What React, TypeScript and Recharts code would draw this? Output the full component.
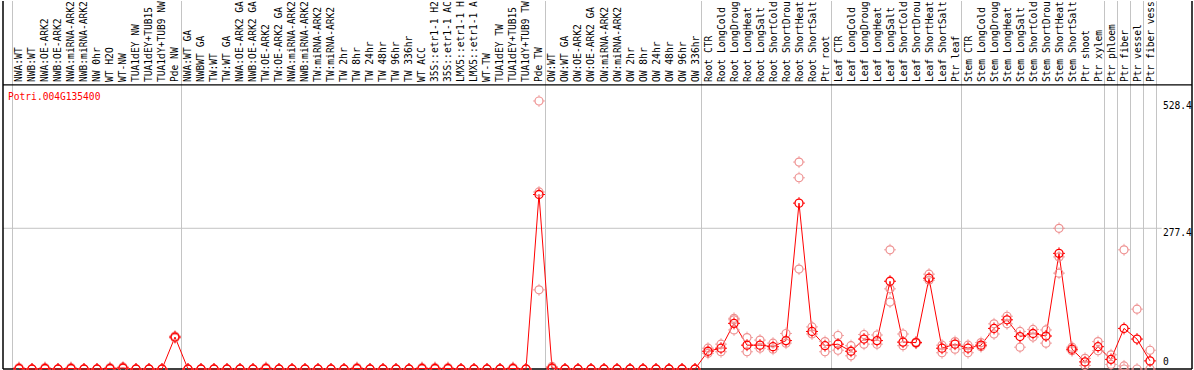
import React from 'react';
import { ComposedChart, Line, Scatter, XAxis, YAxis, ReferenceLine } from 'recharts';

const GENE = 'Potri.004G135400';

const SAMPLES = [
  'NWA:WT', 'NWB:WT', 'NWA:OE-ARK2', 'NWB:OE-ARK2', 'NWA:miRNA-ARK2', 'NWB:miRNA-ARK2',
  'NW 0hr', 'WT H2O', 'WT-NW', 'TUA1dEY NW', 'TUA1dEY+TUB15', 'TUA1dY+TUB9 NW', 'Pde NW',
  'NWA:WT GA', 'NWBWT GA', 'TW:WT', 'TW:WT GA', 'NWA:OE-ARK2 GA', 'NWB:OE-ARK2 GA',
  'TW:OE-ARK2', 'TW:OE-ARK2 GA', 'NWA:miRNA-ARK2', 'NWB:miRNA-ARK2', 'TW:miRNA-ARK2',
  'TW:miRNA-ARK2', 'TW 2hr', 'TW 8hr', 'TW 24hr', 'TW 48hr', 'TW 96hr', 'TW 336hr',
  'WT ACC', '35S::etr1-1 H2', '35S::etr1-1 AC', 'LMX5::etr1-1 H', 'LMX5::etr1-1 A',
  'WT-TW', 'TUA1dEY TW', 'TUA1dEY+TUB15', 'TUA1dY+TUB9 TW', 'Pde TW',
  'OW:WT', 'OW:WT GA', 'OW:OE-ARK2', 'OW:OE-ARK2 GA', 'OW:miRNA-ARK2', 'OW:miRNA-ARK2',
  'OW 2hr', 'OW 8hr', 'OW 24hr', 'OW 48hr', 'OW 96hr', 'OW 336hr',
  'Root CTR', 'Root LongCold', 'Root LongDroug', 'Root LongHeat', 'Root LongSalt',
  'Root ShortCold', 'Root ShortDrou', 'Root ShortHeat', 'Root ShortSalt', 'Ptr root',
  'Leaf CTR', 'Leaf LongCold', 'Leaf LongDroug', 'Leaf LongHeat', 'Leaf LongSalt',
  'Leaf ShortCold', 'Leaf ShortDrou', 'Leaf ShortHeat', 'Leaf ShortSalt', 'Ptr leaf',
  'Stem CTR', 'Stem LongCold', 'Stem LongDroug', 'Stem LongHeat', 'Stem LongSalt',
  'Stem ShortCold', 'Stem ShortDrou', 'Stem ShortHeat', 'Stem ShortSalt', 'Ptr shoot',
  'Ptr xylem', 'Ptr phloem', 'Ptr fiber', 'Ptr vessel', 'Ptr fiber vess',
];

// mean expression per sample
const MEANS = [
  1, 0, 1, 0, 1, 0, 0, 1, 2, 0, 0, 0, 63,
  0, 0, 0, 0, 0, 0, 1, 0, 0, 0, 0, 0, 0, 1, 0, 0, 0, 0, 1, 1, 1, 0, 0, 0, 0, 1, 0, 344,
  2, 0, 0, 0, 0, 0, 0, 0, 0, 0, 0, 0,
  35, 41, 90, 47, 47, 44, 56, 327, 74, 46,
  49, 35, 59, 56, 173, 53, 52, 179, 41, 49,
  41, 47, 80, 97, 64, 70, 65, 228, 39, 14, 44, 19, 80, 59, 16,
];

// individual replicates per sample
const REPLICATES: number[][] = [
  [3, 0], [0, 0], [3, 0], [0, 0], [3, 0], [0, 0], [0, 0], [3, 0], [4, 1], [0, 0], [0, 0], [0, 0], [65, 61],
  [0, 0], [0, 0], [0, 0], [0, 0], [0, 0], [0, 0], [3, 0], [0, 0], [0, 0], [0, 0], [0, 0], [0, 0],
  [0, 0], [3, 0], [0, 0], [0, 0], [0, 0], [0, 0], [3, 0], [3, 0], [3, 0], [0, 0], [0, 0], [0, 0],
  [0, 0], [3, 0], [0, 0], [528.4, 349, 156],
  [5, 0], [0, 0], [0, 0], [0, 0], [0, 0], [0, 0], [0, 0], [0, 0], [0, 0], [0, 0], [0, 0], [0, 0],
  [41, 31], [49, 34], [100, 97, 77], [62, 34], [57, 41], [51, 39], [70, 51], [408, 377, 197], [83, 69], [54, 34],
  [66, 37], [46, 26], [68, 49], [67, 49], [235, 158, 132], [69, 46], [53, 51], [187, 175], [47, 32], [54, 39],
  [47, 32], [52, 44], [89, 69], [104, 89], [74, 43], [78, 63], [77, 51], [277.4, 221, 189], [36, 43], [21, 7],
  [54, 36], [28, 9], [235, 6, 0], [118, 0], [37, 0],
];

const GROUP_BREAKS = [-0.5, 12.5, 40.5, 52.5, 62.5, 72.5, 83.5, 84.5, 85.5, 86.5, 87.5];
const Y_TICKS = [0, 277.4, 528.4];

const CHART_W = 1194;
const CHART_H = 370;
const MARGIN = { top: 0, right: 2, bottom: 1, left: 3 };
const X_DOMAIN: [number, number] = [-1.23, 90.23];
const Y_DOMAIN: [number, number] = [0, 725.5];
const HEADER_Y = 560;
const FONT = '"DejaVu Sans Mono", monospace';
const FONT_SIZE = 9.6;
const GRID = '#c4c4c4';
const RED = '#ff0000';
const PINK = '#ee9090';

const meanData = MEANS.map((mean, i) => ({ x: i, mean }));
const replicateData = REPLICATES.flatMap((reps, i) => reps.map(value => ({ x: i, value })));

const SampleTick = ({ x, payload }: any) => (
  <text
    transform={`translate(${x + 3.5},82) rotate(-90)`}
    fontSize={FONT_SIZE}
    fontFamily={FONT}
    fill="#000"
  >
    {SAMPLES[payload.value]}
  </text>
);

const ValueTick = ({ y, payload }: any) => {
  const v = payload.value;
  return (
    <text
      x={CHART_W - MARGIN.right - 29}
      y={v === 0 ? y - 4 : y + 8}
      fontSize={FONT_SIZE}
      fontFamily={FONT}
      fill="#000"
    >
      {v === 0 ? '0' : v.toFixed(1)}
    </text>
  );
};

const ringPath = (cx: number, cy: number) =>
  `M${cx},${cy - 6}V${cy - 4}M${cx},${cy + 4}V${cy + 6}M${cx - 6},${cy}H${cx - 4}M${cx + 4},${cy}H${cx + 6}`;

const MeanDot = (props: any) => {
  const { cx, cy, index } = props;
  if (cx == null || cy == null) return null;
  return (
    <g key={`mean-${index}`}>
      <circle cx={cx} cy={cy} r={4} fill="none" stroke={RED} strokeWidth={1.3} />
      <path d={ringPath(cx, cy)} stroke={RED} strokeWidth={1} />
    </g>
  );
};

const ReplicateDot = (props: any) => {
  const { cx, cy } = props;
  if (cx == null || cy == null) return null;
  return (
    <g>
      <circle cx={cx} cy={cy} r={4} fill="none" stroke={PINK} strokeWidth={1.2} />
      <path d={ringPath(cx, cy)} stroke={PINK} strokeWidth={0.8} />
    </g>
  );
};

export default function App() {
  return (
    <div style={{ position: 'absolute', left: 0, top: 0, width: CHART_W, height: CHART_H, background: '#fff' }}>
      <ComposedChart width={CHART_W} height={CHART_H} data={meanData} margin={MARGIN}>
        <XAxis
          type="number"
          dataKey="x"
          orientation="top"
          domain={X_DOMAIN}
          ticks={SAMPLES.map((_, i) => i)}
          interval={0}
          height={1}
          tick={<SampleTick />}
          tickLine={false}
          axisLine={false}
        />
        <YAxis
          type="number"
          orientation="right"
          mirror
          domain={Y_DOMAIN}
          ticks={Y_TICKS}
          interval={0}
          tick={<ValueTick />}
          tickLine={false}
          axisLine={false}
          tickSize={0}
        />
        {GROUP_BREAKS.map(b => (
          <ReferenceLine key={`g-${b}`} x={b} stroke={GRID} strokeWidth={1} />
        ))}
        <ReferenceLine
          segment={[{ x: X_DOMAIN[0], y: 277.4 }, { x: 87.9, y: 277.4 }]}
          stroke={GRID}
          strokeWidth={1}
        />
        <ReferenceLine y={HEADER_Y} stroke="#000" strokeWidth={1.2} />
        <ReferenceLine y={0} stroke="#000" strokeWidth={1.5} />
        <ReferenceLine x={X_DOMAIN[0]} stroke="#000" strokeWidth={1.5} />
        <ReferenceLine x={X_DOMAIN[1]} stroke="#000" strokeWidth={1.5} />
        <Scatter data={replicateData} dataKey="value" shape={<ReplicateDot />} isAnimationActive={false} />
        <Line
          type="linear"
          dataKey="mean"
          stroke={RED}
          strokeWidth={1}
          dot={MeanDot}
          activeDot={false}
          isAnimationActive={false}
        />
      </ComposedChart>
      <div
        style={{
          position: 'absolute',
          left: 8,
          top: 92,
          fontFamily: FONT,
          fontSize: FONT_SIZE,
          lineHeight: '10px',
          color: RED,
          pointerEvents: 'none',
        }}
      >
        {GENE}
      </div>
    </div>
  );
}
